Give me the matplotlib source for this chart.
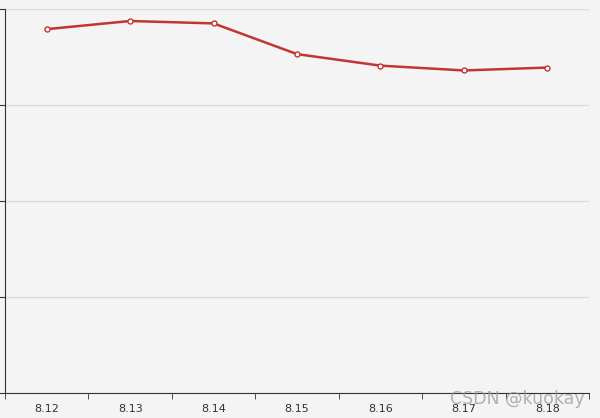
import numpy as np
import matplotlib.pyplot as plt

dates = ['8.12', '8.13', '8.14', '8.15', '8.16', '8.17', '8.18']
values = [37.9, 38.75, 38.5, 35.3, 34.1, 33.6, 33.9]

bg = '#f4f4f4'
fig = plt.figure(figsize=(6, 4.18), dpi=100, facecolor=bg)
ax = fig.add_axes([5 / 600, 25 / 418, 584 / 600, 384 / 418], facecolor=bg)

x = np.arange(len(dates))
ax.plot(x, values, '-', color='#c23531', lw=1.8, marker='o', ms=3.6,
        mfc='white', mec='#c23531', mew=1.0, zorder=3)

ax.set_xlim(-0.5, len(dates) - 0.5)
ax.set_ylim(0, 40)
ax.set_yticks([0, 10, 20, 30, 40])
ax.set_yticklabels([])
ax.yaxis.grid(True, color='#dcdcdc', lw=1)
ax.set_axisbelow(True)

ax.set_xticks(x)
ax.set_xticklabels(dates, fontsize=8, color='#333333')
ax.set_xticks(np.arange(-0.5, len(dates)), minor=True)
ax.tick_params(axis='x', which='major', length=0, pad=8)
ax.tick_params(axis='x', which='minor', length=4, color='#333333')
ax.tick_params(axis='y', length=4, color='#333333')

for s in ['top', 'right']:
    ax.spines[s].set_visible(False)
for s in ['left', 'bottom']:
    ax.spines[s].set_color('#333333')

# watermark, sits over the last labels as in the original
fig.text(0.975, 0.046, 'CSDN @kuokay', fontsize=12.5, color='#999999',
         alpha=0.75, ha='right', va='center')

fig.savefig('out.png', dpi=100, facecolor=bg)
